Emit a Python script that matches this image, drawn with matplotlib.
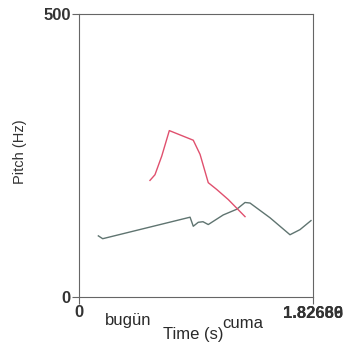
import matplotlib
matplotlib.use("Agg")
import matplotlib.pyplot as plt

plt.rcParams['font.family'] = ['Liberation Sans', 'DejaVu Sans']

# pitch tracks (time in s, pitch in Hz)
gray_t = [0.151, 0.185, 0.867, 0.892, 0.931, 0.968, 1.009, 1.126, 1.231, 1.296, 1.335, 1.491, 1.647, 1.725, 1.811]
gray_f = [108, 103, 141, 125, 132, 133, 128, 145, 155, 167, 166, 140, 110, 119, 135]

red_t = [0.554, 0.593, 0.646, 0.705, 0.892, 0.945, 1.009, 1.075, 1.166, 1.231, 1.296]
red_f = [206, 216, 249, 294, 277, 252, 202, 190, 172, 157, 142]

t_end = 1.82666
words = ['bugün', 'cuma']
word_x = [0.383, 1.278]
word_y = [321, 323]

W, H = 347, 351
fig = plt.figure(figsize=(W / 100, H / 100), dpi=100)
ax = fig.add_axes([79 / W, 1 - 297 / H, (313 - 79) / W, (297 - 14) / H])

ax.plot(gray_t, gray_f, color='#5f7470', lw=1.0)
ax.plot(red_t, red_f, color='#e0506e', lw=1.0)

ax.set_xlim(0, t_end)
ax.set_ylim(0, 500)
for s in ax.spines.values():
    s.set_color('#666666')
    s.set_linewidth(0.8)

ax.set_yticks([0, 500])
ax.set_yticklabels(['0', '500'], fontsize=12, fontweight='bold', color='#333333')
ax.set_xticks([0, t_end])
ax.set_xticklabels(['0', ''], fontsize=12, fontweight='bold', color='#333333')
ax.tick_params(length=5, width=0.8, color='#666666', pad=1)

# end time label, printed twice on top of each other as in the scan
for lab in ['1.82666', '1.82689']:
    fig.text(313 / W, 1 - 313 / H, lab, ha='center', va='center',
             fontsize=12, fontweight='bold', color='#333333')

for w, x, y in zip(words, word_x, word_y):
    px = 79 + x * (313 - 79) / t_end
    fig.text(px / W, 1 - y / H, w, ha='center', va='center', fontsize=12, color='#2a2a2a')

fig.text(193 / W, 1 - 334 / H, 'Time (s)', ha='center', va='center', fontsize=12, color='#2a2a2a')
fig.text(20 / W, 1 - 152 / H, 'Pitch (Hz)', ha='center', va='center', rotation=90,
         fontsize=10.5, color='#333333')

fig.savefig('out.png', dpi=100)
